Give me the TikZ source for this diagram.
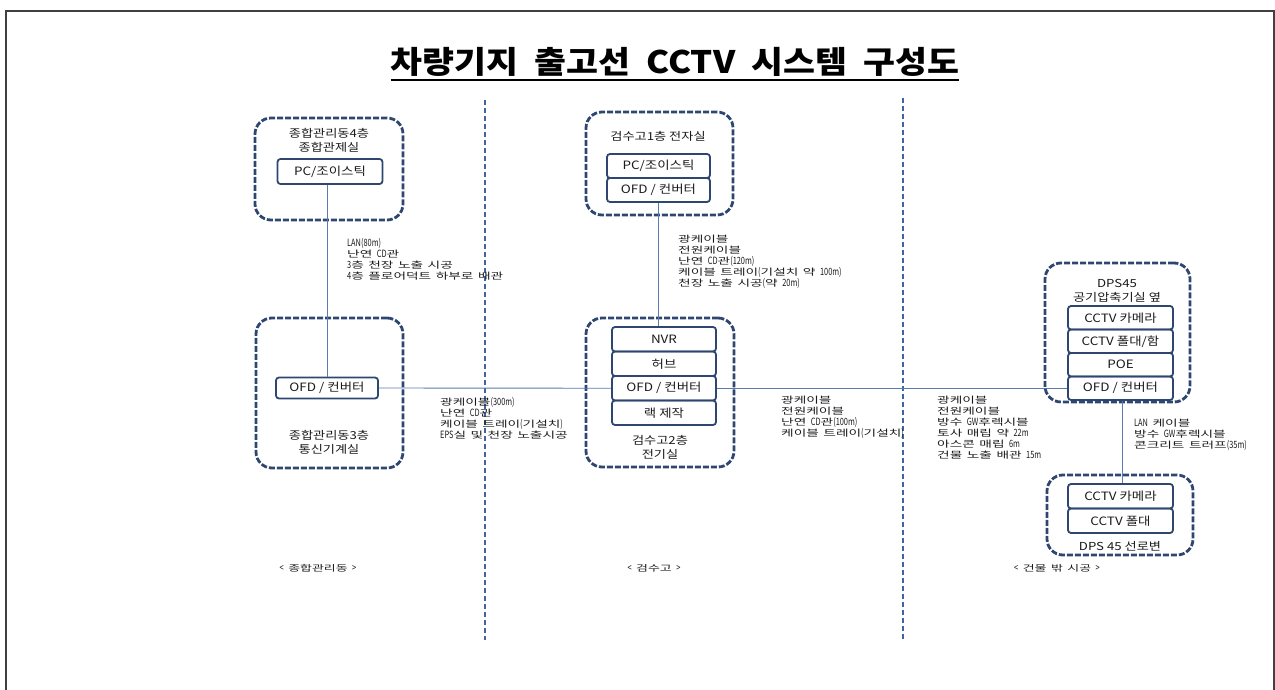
\documentclass[tikz,border=0pt]{standalone}
\usepackage{fontspec}
\setmainfont{Noto Sans CJK KR}
\newfontfamily\hgA[FakeStretch=1.52]{Noto Sans CJK KR}
\newfontfamily\latA[FakeStretch=0.74]{Noto Sans CJK KR}
\newfontfamily\boxfont[FakeStretch=1.17]{Noto Sans CJK KR}
\newfontfamily\capfont[FakeStretch=1.2]{Noto Sans CJK KR}
\newfontfamily\titlefont[FakeStretch=1.12]{Noto Sans CJK KR}
\newcommand\ltn[1]{{\latA\fontsize{10}{11}\selectfont #1}}
\definecolor{navy}{HTML}{2E4670}
\definecolor{wirec}{HTML}{5A7BAE}
\definecolor{divc}{HTML}{3F64A0}
\definecolor{framec}{HTML}{404040}
\definecolor{txt}{HTML}{1A1A1A}
\tikzset{
  zone/.style={draw=navy, line width=2.8pt, dash pattern=on 6pt off 2pt, rounded corners=16pt, inner sep=0pt},
  unit/.style={draw=navy, line width=1.8pt, rounded corners=3pt, minimum width=105pt, inner sep=0pt, text=txt,
    font={\boxfont\fontsize{11.5}{13}\selectfont}},
  lbl/.style={align=left, anchor=north west, inner sep=0pt, text=txt,
    font={\hgA\fontsize{9}{11}\selectfont\spaceskip=4.5pt\relax}},
  zcap/.style={align=center, inner sep=0pt, text=txt,
    font={\capfont\fontsize{11}{14}\selectfont}},
  sect/.style={inner sep=0pt, text=txt,
    font={\hgA\fontsize{8.5}{10}\selectfont\spaceskip=4.5pt\relax}},
  ttl/.style={inner sep=0pt, text=black,
    font={\titlefont\bfseries\fontsize{31}{34}\selectfont\spaceskip=16pt\relax}},
  wire/.style={draw=wirec, line width=0.9pt},
  divider/.style={draw=divc, line width=1.6pt, dash pattern=on 5pt off 3pt},
}
\begin{document}
\begin{tikzpicture}[x=1pt,y=-1pt]
\useasboundingbox (0,0) rectangle (1275,690);
% frame
\draw[framec, line width=1.6pt] (6,690) -- (6,11) -- (1274,11) -- (1274,690);
% title
\node[ttl] (title) at (675,62) {차량기지 출고선 CCTV 시스템 구성도};
\draw[line width=2.4pt] ([yshift=-3pt]title.south west) -- ([yshift=-3pt]title.south east);
% dividers
\coordinate (d1a) at (485,100); \coordinate (d1b) at (485,640);
\coordinate (d2a) at (903,98); \coordinate (d2b) at (903,640);
\draw[divider] (d1a) -- (d1b);
\draw[divider] (d2a) -- (d2b);
% zones
\node[zone, minimum width=148pt, minimum height=102pt] (z1) at (329,169) {};
\node[zone, minimum width=147pt, minimum height=150pt] (z2) at (329.5,393) {};
\node[zone, minimum width=147pt, minimum height=103pt] (z3) at (659.5,163.5) {};
\node[zone, minimum width=148pt, minimum height=149pt] (z4) at (660,392.5) {};
\node[zone, minimum width=145pt, minimum height=139pt] (z5) at (1117.5,332.5) {};
\node[zone, minimum width=146pt, minimum height=80pt] (z6) at (1120,515) {};
% zone captions
\node[zcap] (c1) at (329,140) {종합관리동4층\\종합관제실};
\node[zcap] (c2) at (329,442.5) {종합관리동3층\\통신기계실};
\node[zcap] (c3) at (658,136) {검수고1층 전자실};
\node[zcap] (c4) at (660,447.5) {검수고2층\\전기실};
\node[zcap] (c5) at (1117,290.5) {DPS45\\공기압축기실 옆};
\node[zcap] (c6) at (1120,546) {DPS 45 선로변};
% units left
\node[unit, minimum height=25pt] (pc1) at (330,171.5) {PC/조이스틱};
\node[unit, minimum width=102pt, minimum height=21pt] (ofd1) at (327,388) {OFD / 컨버터};
% units middle
\node[unit, minimum width=103pt, minimum height=24pt] (pc2) at (658.5,166) {PC/조이스틱};
\node[unit, minimum width=103pt, minimum height=24pt] (ofd2) at (658.5,190) {OFD / 컨버터};
\node[unit, minimum width=104pt, minimum height=24.5pt] (nvr) at (664,339.25) {NVR};
\node[unit, minimum width=104pt, minimum height=24.5pt] (hub) at (664,363.75) {허브};
\node[unit, minimum width=104pt, minimum height=24.5pt] (ofdm) at (664,388.25) {OFD / 컨버터};
\node[unit, minimum width=104pt, minimum height=24.5pt] (rack) at (664,412.75) {랙 제작};
% units right
\node[unit, minimum height=23.5pt] (cam1) at (1120.5,317.75) {CCTV 카메라};
\node[unit, minimum height=23.5pt] (pole1) at (1120.5,341.25) {CCTV 폴대/함};
\node[unit, minimum height=23.5pt] (poe) at (1120.5,364.75) {POE};
\node[unit, minimum height=23.5pt] (ofdr) at (1120.5,388.25) {OFD / 컨버터};
\node[unit, minimum height=24.5pt] (cam2) at (1120.5,496.25) {CCTV 카메라};
\node[unit, minimum height=24.5pt] (pole2) at (1120.5,520.75) {CCTV 폴대};
% wires
\draw[wire] (ofd1.north) -- (ofd1.north |- pc1.south);
\draw[wire] (ofd2.south) -- (ofd2.south |- nvr.north);
\draw[wire] (ofd1.east) -- (ofdm.west);
\draw[wire] (ofdm.east) -- (ofdr.west);
\draw[wire] ([xshift=1.5pt]ofdr.south) -- ([xshift=1.5pt]cam2.north);
% cable labels
\node[lbl] (l1) at (347,238) {\ltn{LAN(80m)}\\난연 \ltn{CD}관\\\ltn{3}층 천장 노출 시공\\\ltn{4}층 플로어덕트 하부로 배관};
\node[lbl] (l2) at (440,397) {광케이블\ltn{(300m)}\\난연 \ltn{CD}관\\케이블 트레이\ltn{(}기설치\ltn{)}\\\ltn{EPS}실 및 천장 노출시공};
\node[lbl] (l3) at (678,235) {광케이블\\전원케이블\\난연 \ltn{CD}관\ltn{(120m)}\\케이블 트레이\ltn{(}기설치 약 \ltn{100m)}\\천장 노출 시공\ltn{(}약 \ltn{20m)}};
\node[lbl] (l4) at (781,396) {광케이블\\전원케이블\\난연 \ltn{CD}관\ltn{(100m)}\\케이블 트레이\ltn{(}기설치\ltn{)}};
\node[lbl] (l5) at (937,396) {광케이블\\전원케이블\\방수 \ltn{GW}후렉시블\\토사 매립 약 \ltn{22m}\\아스콘 매립 \ltn{6m}\\건물 노출 배관 \ltn{15m}};
\node[lbl] (l6) at (1134,419) {\ltn{LAN} 케이블\\방수 \ltn{GW}후렉시블\\콘크리트 트러프\ltn{(35m)}};
% section labels
\node[sect] (s1) at (318,568) {\ltn{<} 종합관리동 \ltn{>}};
\node[sect] (s2) at (654,568) {\ltn{<} 검수고 \ltn{>}};
\node[sect] (s3) at (1057,568) {\ltn{<} 건물 밖 시공 \ltn{>}};
\end{tikzpicture}
\end{document}
